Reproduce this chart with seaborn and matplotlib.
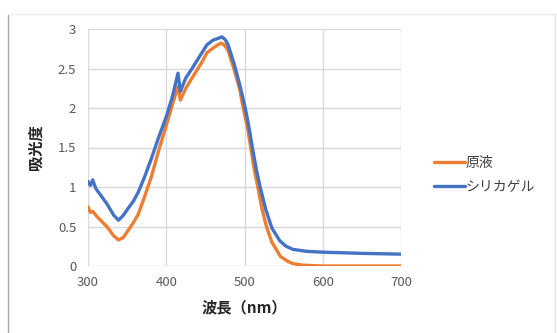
import pandas as pd
import matplotlib
matplotlib.use("Agg")
import matplotlib.pyplot as plt
from matplotlib.lines import Line2D
import seaborn as sns

sns.set_style("whitegrid")
plt.rcParams['font.family'] = ['Noto Sans CJK JP', 'DejaVu Sans']

# 原液 (stock solution)
genseki_wl = [300, 303, 306, 312, 324, 333, 339, 345, 352, 358, 364, 372, 381, 390, 400, 408,
              415, 418, 425, 433, 445, 452, 460, 466, 470, 474, 479, 487, 494, 498,
              504, 508, 512, 517, 522, 528, 535, 546, 555, 562, 575, 600, 650, 700]
genseki_abs = [0.75, 0.68, 0.69, 0.62, 0.50, 0.38, 0.33, 0.36, 0.46, 0.55, 0.65, 0.87, 1.13, 1.45, 1.78, 2.05,
               2.27, 2.10, 2.25, 2.38, 2.57, 2.70, 2.76, 2.80, 2.82, 2.80, 2.73, 2.48, 2.23, 2.02,
               1.74, 1.50, 1.25, 1.00, 0.74, 0.50, 0.30, 0.12, 0.06, 0.03, 0.01, 0.0, 0.0, 0.0]

# シリカゲル (silica gel)
silica_wl = [300, 303, 306, 310, 324, 333, 339, 345, 352, 358, 364, 372, 381, 390, 400, 408,
             415, 418, 425, 433, 445, 452, 460, 466, 471, 475, 479, 487, 494, 500,
             504, 507, 510, 515, 520, 527, 535, 545, 553, 562, 580, 600, 650, 700]
silica_abs = [1.07, 1.02, 1.09, 0.98, 0.79, 0.64, 0.58, 0.64, 0.74, 0.82, 0.93, 1.12, 1.36, 1.62, 1.89, 2.15,
              2.44, 2.21, 2.38, 2.50, 2.69, 2.80, 2.86, 2.88, 2.90, 2.87, 2.80, 2.55, 2.29, 2.04,
              1.85, 1.68, 1.50, 1.23, 1.00, 0.72, 0.48, 0.32, 0.25, 0.21, 0.185, 0.175, 0.16, 0.15]

series_names = ['原液', 'シリカゲル']
colors = ['#ED7D31', '#4472C4']

df = pd.concat([
    pd.DataFrame({'wl': genseki_wl, 'abs': genseki_abs, 'series': series_names[0]}),
    pd.DataFrame({'wl': silica_wl, 'abs': silica_abs, 'series': series_names[1]}),
])

fig = plt.figure(figsize=(5.57, 3.33), dpi=100)
ax = fig.add_axes([88 / 557, 1 - 266 / 333, 313 / 557, 237 / 333])

sns.lineplot(data=df, x='wl', y='abs', hue='series', palette=colors,
             estimator=None, linewidth=2.4, ax=ax, legend=False)

ax.set_xlim(300, 700)
ax.set_ylim(0, 3)
ax.set_xticks([300, 400, 500, 600, 700])
ax.set_yticks([0, 0.5, 1, 1.5, 2, 2.5, 3])
ax.set_yticklabels(['0', '0.5', '1', '1.5', '2', '2.5', '3'])
ax.grid(True, color='#D9D9D9', linewidth=1.0)
ax.set_axisbelow(True)
for s in ax.spines.values():
    s.set_visible(False)
ax.tick_params(axis='both', length=0, labelsize=9.5, labelcolor='#595959')
ax.tick_params(axis='y', pad=8.5)
ax.tick_params(axis='x', pad=7.5)

ax.set_xlabel('波長（nm）', fontsize=11, fontweight='bold', color='#262626', labelpad=7)
ax.set_ylabel('吸光度', fontsize=11, fontweight='bold', color='#262626', labelpad=10)

handles = [Line2D([], [], color=c, linewidth=2.4) for c in colors]
fig.legend(handles, series_names, loc='center left',
           bbox_to_anchor=(434 / 557, 1 - 175 / 333), frameon=False,
           fontsize=10, handlelength=2.2, handletextpad=0.1, labelspacing=0.75,
           borderpad=0, borderaxespad=0, labelcolor='#404040')

# chart border (cropped)
fig.add_artist(Line2D([8 / 557, 8 / 557], [0, 1 - 14 / 333], transform=fig.transFigure,
                      color='#A6A6A6', linewidth=1.0))
fig.add_artist(Line2D([8 / 557, 1], [1 - 14 / 333, 1 - 14 / 333], transform=fig.transFigure,
                      color='#EDEDED', linewidth=1.0))
fig.add_artist(Line2D([555 / 557, 555 / 557], [0, 1 - 14 / 333], transform=fig.transFigure,
                      color='#E6E6E6', linewidth=1.0))

plt.savefig('out.png', dpi=100)
